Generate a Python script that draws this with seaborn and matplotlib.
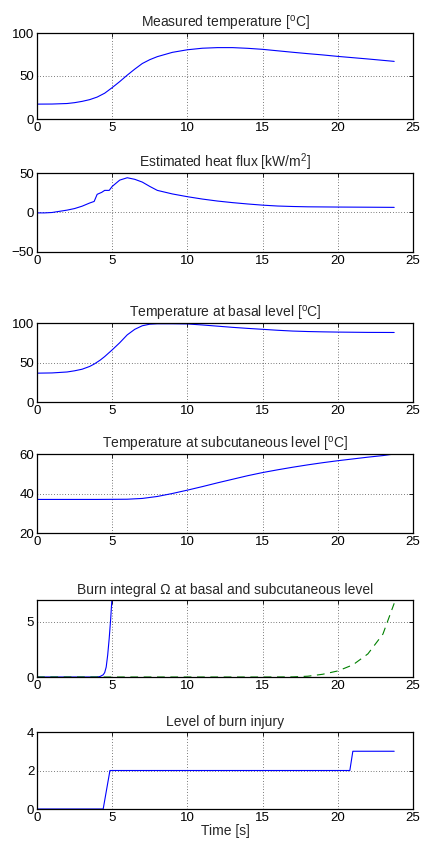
import numpy as np
import pandas as pd
import matplotlib
matplotlib.use("Agg")
import matplotlib.pyplot as plt
import seaborn as sns

# values
t_meas = [0, 1, 2, 2.5, 3, 3.5, 4, 4.5, 5, 5.5, 6, 6.5, 7, 7.5, 8, 9, 10, 11, 12, 13, 14, 15, 16, 17, 18, 19, 20, 21, 22, 23, 23.75]
meas_temp = [17.3, 17.4, 18, 19, 20.5, 22.5, 25.5, 30, 36.5, 43.5, 51, 58, 64.5, 69, 72.5, 77.5, 80.5, 82.3, 83, 83, 82.2, 81, 79.3, 77.6, 76, 74.5, 72.8, 71.3, 69.8, 68.2, 67]

t_flux = [0, 0.5, 1, 1.5, 2, 2.5, 3, 3.5, 3.8, 4.0, 4.3, 4.5, 4.8, 5.0, 5.5, 6.0, 6.5, 7.0, 7.5, 8, 9, 10, 11, 12, 13, 14, 15, 16, 17, 18, 20, 22, 23.75]
heat_flux = [-0.5, -0.5, 0, 1.5, 3, 5, 8, 12, 14, 23, 25.5, 28, 28, 33, 41, 44, 42, 38.5, 33, 28, 23.5, 20, 17, 14.5, 12.5, 10.8, 9.3, 8.2, 7.6, 7.2, 6.9, 6.7, 6.5]

t_basal = [0, 1, 2, 2.5, 3, 3.5, 3.8, 4.2, 4.5, 5, 5.5, 6, 6.5, 7, 7.5, 8, 9, 10, 11, 12, 13, 14, 15, 16, 17, 18, 19, 20, 21, 22, 23.75]
basal_temp = [36.5, 36.8, 38, 39.5, 41.5, 45, 48, 53, 57.5, 66, 75, 85, 92, 96.5, 98.5, 99, 99, 98.8, 97.5, 96, 94.5, 93.2, 92, 90.8, 89.8, 89.2, 88.8, 88.5, 88.3, 88.1, 88]

t_sub = [0, 2, 4, 6, 7, 8, 9, 10, 11, 12, 13, 14, 15, 16, 17, 18, 19, 20, 21, 22, 23, 23.75]
sub_temp = [37, 37, 37, 37.1, 37.5, 38.5, 40, 41.7, 43.5, 45.4, 47.2, 49, 50.6, 52, 53.3, 54.5, 55.6, 56.6, 57.5, 58.4, 59.2, 60]

t_omega_b = [0, 2, 4.0, 4.2, 4.4, 4.5, 4.6, 4.7, 4.8, 4.9, 5.0]
omega_basal = [0, 0, 0, 0.05, 0.2, 0.4, 0.9, 2.0, 3.5, 5.3, 7.5]
t_omega_s = [0, 5, 10, 15, 17, 18, 19, 20, 21, 22, 23, 23.75]
omega_sub = [0, 0, 0, 0, 0.01, 0.07, 0.25, 0.55, 1.1, 2.1, 3.9, 6.7]

t_level = [0, 4.4, 4.85, 20.8, 21.0, 23.75]
burn_level = [0, 0, 2, 2, 3, 3]

titles = [r"Measured temperature [$^{\rm o}$C]",
          r"Estimated heat flux [kW/m$^2$]",
          r"Temperature at basal level [$^{\rm o}$C]",
          r"Temperature at subcutaneous level [$^{\rm o}$C]",
          "Burn integral \u03a9 at basal and subcutaneous level",
          "Level of burn injury"]
yticks = [[0, 50, 100], [-50, 0, 50], [0, 50, 100], [20, 40, 60], [0, 5], [0, 2, 4]]
ylims = [(0, 100), (-50, 50), (0, 100), (20, 60), (0, 7), (0, 4)]

sns.set_style("white")
plt.rcParams["font.family"] = ["Liberation Sans", "DejaVu Sans"]
plt.rcParams["mathtext.fontset"] = "custom"
plt.rcParams["mathtext.rm"] = "Liberation Sans"

W, H = 422, 846
fig = plt.figure(figsize=(W / 100, H / 100), dpi=100)

# axes boxes in pixels (top, bottom)
boxes = [(33, 119), (173, 252), (323, 402), (454, 533), (600, 677), (732, 809)]
left, right = 37, 413

series = [
    [(t_meas, meas_temp, "-", "blue")],
    [(t_flux, heat_flux, "-", "blue")],
    [(t_basal, basal_temp, "-", "blue")],
    [(t_sub, sub_temp, "-", "blue")],
    [(t_omega_b, omega_basal, "-", "blue"), (t_omega_s, omega_sub, "--", "#008000")],
    [(t_level, burn_level, "-", "blue")],
]

for i, (top, bot) in enumerate(boxes):
    ax = fig.add_axes([left / W, 1 - bot / H, (right - left) / W, (bot - top) / H])
    for xs, ys, ls, col in series[i]:
        df = pd.DataFrame({"t": xs, "v": ys})
        sns.lineplot(data=df, x="t", y="v", ax=ax, color=col, linewidth=0.8)
        if ls == "--":
            ax.lines[-1].set_dashes((7, 5))
    ax.set_xlim(0, 25)
    ax.set_ylim(*ylims[i])
    ax.set_xticks([0, 5, 10, 15, 20, 25])
    ax.set_yticks(yticks[i])
    ax.set_xticklabels(["0", "5", "10", "15", "20", "25"])
    ax.set_yticklabels(["\u2212" + str(-v) if v < 0 else str(v) for v in yticks[i]])
    ax.grid(True, color="black", linestyle=(0, (1, 3)), linewidth=0.5)
    ax.tick_params(direction="in", length=3, width=0.6, top=True, right=True,
                   labelsize=9.5, pad=2, colors="black")
    for s in ax.spines.values():
        s.set_color("black")
        s.set_linewidth(0.9)
    ax.set_xlabel("")
    ax.set_ylabel("")
    ax.set_title(titles[i], fontsize=10, pad=4)

ax.set_xlabel("Time [s]", fontsize=10, labelpad=0)

fig.savefig("out.png", dpi=100)
